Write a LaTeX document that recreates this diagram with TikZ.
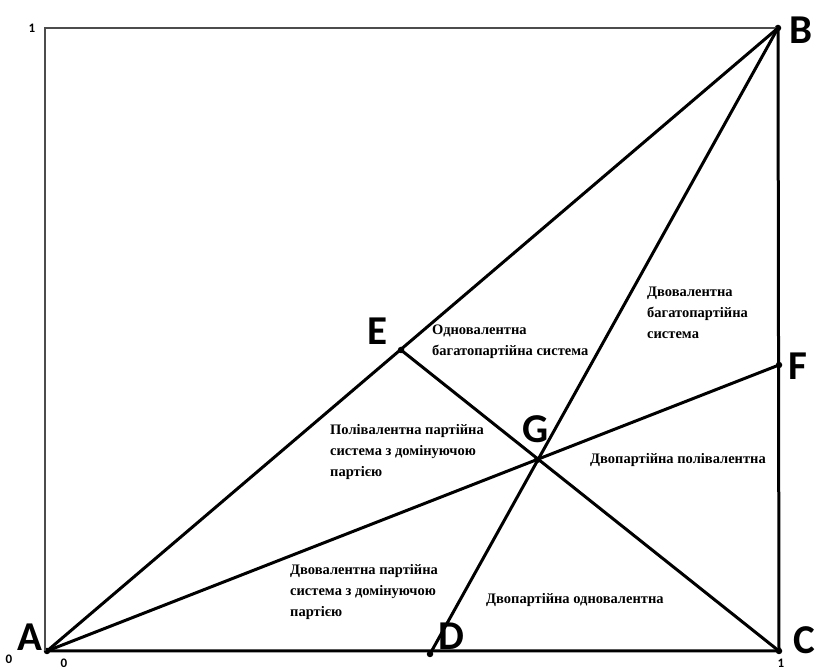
\documentclass[tikz,border=0pt]{standalone}
\usepackage{fontspec}
\setmainfont{Liberation Serif}
\newfontfamily\letfont{Carlito}
\begin{document}
\begin{tikzpicture}[x=1pt,y=1pt,
  pt/.style={circle,fill=black,inner sep=0pt,minimum size=6.5pt},
  thick line/.style={line width=3pt,line cap=round},
  thin line/.style={line width=1.4pt,draw=black!70},
  biglet/.style={font=\letfont\bfseries\fontsize{41}{41}\selectfont,inner sep=0pt},
  num/.style={font=\letfont\bfseries\fontsize{13}{13}\selectfont,inner sep=0pt},
  lab/.style={font=\bfseries\fontsize{14.5}{21}\selectfont,align=left,anchor=north west,inner sep=0pt,text=black}]
\useasboundingbox (0,0) rectangle (815,670);
% points (y = 670 - pixel y)
\node[pt] (A) at (47,19) {};
\node[pt] (B) at (778,642) {};
\node[pt] (C) at (779,19) {};
\node[pt] (D) at (430,16) {};
\node[pt] (E) at (401,320) {};
\node[pt] (F) at (779,305) {};
\node[pt] (G) at (537,210) {};
\coordinate (TL) at (45,642);
\coordinate (BL) at (45,19);
% frame
\draw[thin line] (B.center) -- (TL) -- (BL);
\draw[thick line] (A.center) -- (C.center) -- (B.center);
% diagonals
\draw[thick line] (A.center) -- (B.center);
\draw[thick line] (A.center) -- (F.center);
\draw[thick line] (B.center) -- (D.center);
\draw[thick line] (E.center) -- (C.center);
% letters
\node[biglet] (lA) at (30,33) {A};
\node[biglet] (lB) at (801,640) {B};
\node[biglet] (lC) at (804,30) {C};
\node[biglet] (lD) at (451,34) {D};
\node[biglet] (lE) at (377,339) {E};
\node[biglet] (lF) at (798,304) {F};
\node[biglet] (lG) at (536,241) {G};
% numbers
\node[num] (n1) at (32,642) {1};
\node[num] (n0a) at (9,11) {0};
\node[num] (n0b) at (64,7) {0};
\node[num] (n1b) at (781,7) {1};
% region texts
\node[lab] (t1) at (432,345) {Одновалентна\\багатопартійна система};
\node[lab] (t2) at (647,383) {Двовалентна\\багатопартійна\\система};
\node[lab] (t3) at (330,246) {Полівалентна партійна\\система з домінуючою\\партією};
\node[lab] (t4) at (590,217) {Двопартійна полівалентна};
\node[lab] (t5) at (290,106) {Двовалентна партійна\\система з домінуючою\\партією};
\node[lab] (t6) at (486,77) {Двопартійна одновалентна};
\end{tikzpicture}
\end{document}
